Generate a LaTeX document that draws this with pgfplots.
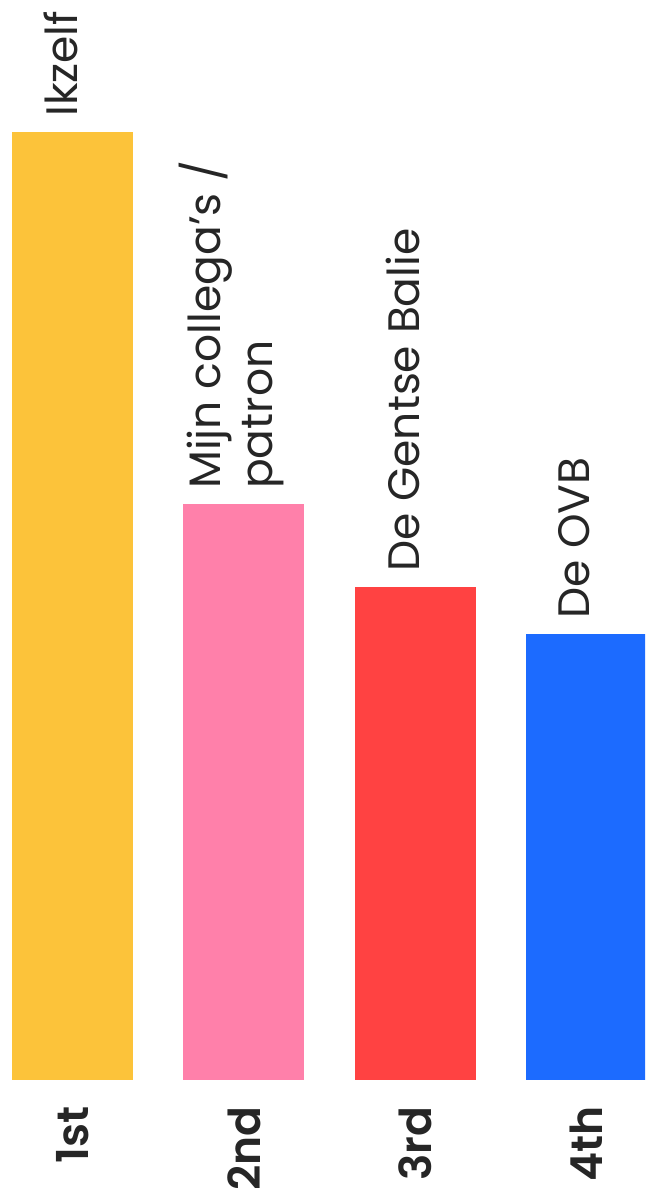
\documentclass[border=0pt]{standalone}
\usepackage{pgfplots}
\pgfplotsset{compat=1.18}
\usepackage{fontspec}
\setmainfont{Poppins}[BoldFont={Poppins SemiBold}]
\definecolor{cYellow}{HTML}{FCC33A}
\definecolor{cPink}{HTML}{FF80AA}
\definecolor{cRed}{HTML}{FF4242}
\definecolor{cBlue}{HTML}{1C6BFF}
\begin{document}
\begin{tikzpicture}
\useasboundingbox (0,-118pt) rectangle (645pt,1080pt);
\begin{axis}[
    at={(0,0)}, anchor=south west,
    scale only axis,
    width=645pt, height=1080pt,
    xmin=-0.4232, xmax=3.3415,
    ymin=0, ymax=1080,
    axis line style={draw=none},
    major tick style={draw=none},
    ytick=\empty,
    xtick={0,1,2,3},
    xticklabels={1st,2nd,3rd,4th},
    xticklabel style={yshift=-22pt, rotate=90, anchor=east, inner sep=0pt,
        font=\bfseries\fontsize{44}{50}\selectfont, text=black!85},
    ybar, bar width=121pt, bar shift=0pt,
    point meta=explicit symbolic,
    nodes near coords,
    every node near coord/.append style={xshift=-12pt, yshift=15pt, rotate=90,
        anchor=west, inner sep=0pt, align=left,
        font=\fontsize{44}{52}\selectfont, text=black!85},
]
\addplot[draw=none, fill=cYellow] coordinates {(0,948) [Ikzelf]};
\addplot[draw=none, fill=cPink] coordinates {(1,576) [{Mijn collega's /\\patron}]};
\addplot[draw=none, fill=cRed] coordinates {(2,493) [De Gentse Balie]};
\addplot[draw=none, fill=cBlue] coordinates {(3,446) [De OVB]};
\end{axis}
\end{tikzpicture}
\end{document}
